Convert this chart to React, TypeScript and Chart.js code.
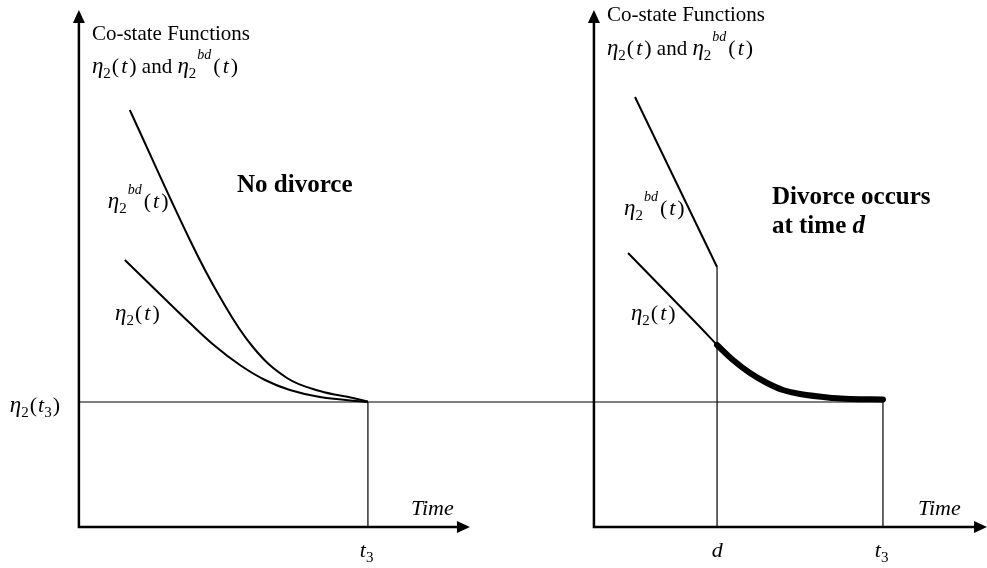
import { useEffect, useRef } from "react";
import { Chart, registerables } from "chart.js";

Chart.register(...registerables);

// ---- schematic units: each panel has t3 = 10, eta2(t3) = 5 ----
const T3 = 10;
const D = 4.26;
const RIGHT_OFFSET = 17.82;
const ETA_T3 = 5;
const Y_TOP = 20.68;
const X_ARROW_LEFT = 13.53;
const X_ARROW_RIGHT = 13.6;

// left panel: no divorce
const leftEtaT = [1.59, 2.8, 3.84, 4.71, 5.57, 6.44, 7.3, 8.34, 10.0];
const leftEtaV = [10.68, 9.32, 8.16, 7.24, 6.48, 5.88, 5.48, 5.2, 5.0];
const leftBdT = [1.76, 3.84, 4.88, 6.02, 7.2, 8.34, 9.48, 10.0];
const leftBdV = [16.68, 11.48, 9.2, 7.2, 5.96, 5.44, 5.16, 5.02];

// right panel: divorce at time d
const rightBdT = [1.42, 4.26];
const rightBdV = [17.2, 10.4];
const rightEtaPreT = [1.18, 2.53, 3.67, 4.26];
const rightEtaPreV = [10.96, 9.36, 8.0, 7.28];
const rightEtaPostT = [4.26, 4.81, 5.4, 5.99, 6.54, 7.13, 8.27, 8.86, 10.0];
const rightEtaPostV = [7.28, 6.68, 6.16, 5.76, 5.48, 5.32, 5.16, 5.12, 5.1];

const pts = (ts: number[], vs: number[], off = 0) => ts.map((t, i) => ({ x: t + off, y: vs[i] }));

const SERIF = '"Liberation Serif", "Times New Roman", serif';
const BASE = 21;

type Kind = "r" | "p" | "i" | "eta" | "b" | "bi" | "sub" | "supi";
type Part = [string, Kind, number?];
type Label = { x: number; y: number; parts: Part[]; size?: number };

const eta2: Part[] = [
  ["η", "eta"],
  ["2", "sub", 1],
  ["(", "p", 2],
  ["t", "i", 2],
  [")", "p"],
];
const eta2bd: Part[] = [
  ["η", "eta"],
  ["2", "sub", 1],
  ["bd", "supi", 2],
  ["(", "p", 2],
  ["t", "i", 2],
  [")", "p"],
];

const labels: Label[] = [
  { x: 0.45, y: 19.48, parts: [["Co-state Functions", "r"]] },
  { x: 0.45, y: 18.16, parts: [...eta2, [" and ", "r"], ...eta2bd] },
  { x: 5.47, y: 13.4, parts: [["No divorce", "b"]], size: 25 },
  { x: 1.0, y: 12.76, parts: eta2bd },
  { x: 1.25, y: 8.28, parts: eta2 },
  {
    x: -2.39,
    y: 4.6,
    parts: [
      ["η", "eta"],
      ["2", "sub", 1],
      ["(", "p", 1],
      ["t", "i"],
      ["3", "sub", 1],
      [")", "p"],
    ],
  },
  { x: 11.49, y: 0.48, parts: [["Time", "i"]] },
  { x: 9.72, y: -1.2, parts: [["t", "i"], ["3", "sub"]] },
  { x: RIGHT_OFFSET + 0.45, y: 20.24, parts: [["Co-state Functions", "r"]] },
  { x: RIGHT_OFFSET + 0.45, y: 18.88, parts: [...eta2, [" and ", "r"], ...eta2bd] },
  { x: RIGHT_OFFSET + 1.04, y: 12.48, parts: eta2bd },
  { x: RIGHT_OFFSET + 6.16, y: 12.92, parts: [["Divorce occurs", "b"]], size: 25 },
  { x: RIGHT_OFFSET + 6.16, y: 11.76, parts: [["at time ", "b"], ["d", "bi"]], size: 25 },
  { x: RIGHT_OFFSET + 1.28, y: 8.28, parts: eta2 },
  { x: RIGHT_OFFSET + 11.21, y: 0.48, parts: [["Time", "i"]] },
  { x: RIGHT_OFFSET + 4.08, y: -1.2, parts: [["d", "i"]] },
  { x: RIGHT_OFFSET + 9.72, y: -1.2, parts: [["t", "i"], ["3", "sub"]] },
];

const arrows = [
  { x: 0, y: Y_TOP, dir: "up" },
  { x: X_ARROW_LEFT, y: 0, dir: "right" },
  { x: RIGHT_OFFSET, y: Y_TOP, dir: "up" },
  { x: RIGHT_OFFSET + X_ARROW_RIGHT, y: 0, dir: "right" },
];

const fontFor = (k: Kind, size: number) => {
  switch (k) {
    case "i":
      return `italic ${size + 1}px ${SERIF}`;
    case "eta":
      return `italic ${size + 2}px ${SERIF}`;
    case "p":
      return `${size + 1}px ${SERIF}`;
    case "b":
      return `bold ${size}px ${SERIF}`;
    case "bi":
      return `italic bold ${size}px ${SERIF}`;
    case "sub":
      return `15px ${SERIF}`;
    case "supi":
      return `italic 14px ${SERIF}`;
    default:
      return `${size}px ${SERIF}`;
  }
};

const annotations = {
  id: "annotations",
  afterDatasetsDraw(chart: any) {
    const ctx = chart.ctx as CanvasRenderingContext2D;
    const xs = chart.scales.x;
    const ys = chart.scales.y;
    ctx.save();
    ctx.fillStyle = "#000";
    for (const a of arrows) {
      const px = xs.getPixelForValue(a.x);
      const py = ys.getPixelForValue(a.y);
      ctx.beginPath();
      if (a.dir === "up") {
        ctx.moveTo(px, py);
        ctx.lineTo(px - 6, py + 13);
        ctx.lineTo(px + 6, py + 13);
      } else {
        ctx.moveTo(px, py);
        ctx.lineTo(px - 13, py - 6);
        ctx.lineTo(px - 13, py + 6);
      }
      ctx.closePath();
      ctx.fill();
    }
    ctx.textBaseline = "alphabetic";
    ctx.textAlign = "left";
    for (const l of labels) {
      const size = l.size ?? BASE;
      let px = xs.getPixelForValue(l.x);
      const py = ys.getPixelForValue(l.y);
      for (const [s, k, gap] of l.parts) {
        ctx.font = fontFor(k, size);
        const dy = k === "sub" ? 5 : k === "supi" ? -14 : 0;
        ctx.fillText(s, px, py + dy);
        px += ctx.measureText(s).width + (gap ?? 0);
      }
    }
    ctx.restore();
  },
};

export default function App() {
  const ref = useRef<HTMLCanvasElement | null>(null);
  useEffect(() => {
    document.body.style.margin = "0";
    if (!ref.current) return;
    const curve = {
      showLine: true,
      pointRadius: 0,
      borderColor: "#000",
      backgroundColor: "#000",
      fill: false,
      tension: 0.4,
    };
    const straight = { ...curve, tension: 0 };
    const chart = new Chart(ref.current, {
      type: "scatter",
      data: {
        datasets: [
          { ...straight, borderWidth: 2.5, data: [{ x: 0, y: Y_TOP - 0.4 }, { x: 0, y: 0 }, { x: X_ARROW_LEFT - 0.35, y: 0 }] },
          {
            ...straight,
            borderWidth: 2.5,
            data: [
              { x: RIGHT_OFFSET, y: Y_TOP - 0.4 },
              { x: RIGHT_OFFSET, y: 0 },
              { x: RIGHT_OFFSET + X_ARROW_RIGHT - 0.35, y: 0 },
            ],
          },
          { ...straight, borderWidth: 1.2, data: [{ x: 0, y: ETA_T3 }, { x: RIGHT_OFFSET + T3, y: ETA_T3 }] },
          {
            ...straight,
            borderWidth: 1.2,
            spanGaps: false,
            data: [
              { x: T3, y: 0 },
              { x: T3, y: ETA_T3 },
              { x: T3, y: null },
              { x: RIGHT_OFFSET + D, y: 0 },
              { x: RIGHT_OFFSET + D, y: rightBdV[rightBdV.length - 1] },
              { x: RIGHT_OFFSET + D, y: null },
              { x: RIGHT_OFFSET + T3, y: 0 },
              { x: RIGHT_OFFSET + T3, y: ETA_T3 },
            ] as any,
          },
          { ...curve, borderWidth: 2, data: pts(leftEtaT, leftEtaV) },
          { ...curve, borderWidth: 2, data: pts(leftBdT, leftBdV) },
          { ...straight, borderWidth: 2, data: pts(rightBdT, rightBdV, RIGHT_OFFSET) },
          { ...curve, borderWidth: 2, data: pts(rightEtaPreT, rightEtaPreV, RIGHT_OFFSET) },
          { ...curve, borderWidth: 6, borderCapStyle: "round", data: pts(rightEtaPostT, rightEtaPostV, RIGHT_OFFSET) },
        ] as any,
      },
      options: {
        animation: false,
        responsive: false,
        devicePixelRatio: 1,
        layout: { padding: 0 },
        plugins: { legend: { display: false }, tooltip: { enabled: false } },
        events: [],
        scales: {
          x: { type: "linear", min: -2.73, max: 31.42, display: false },
          y: { type: "linear", min: -1.64, max: 21.08, display: false },
        },
      },
      plugins: [annotations],
    });
    return () => chart.destroy();
  }, []);
  return (
    <div style={{ width: 987, height: 568, background: "#fff" }}>
      <canvas ref={ref} width={987} height={568} style={{ display: "block" }} />
    </div>
  );
}
